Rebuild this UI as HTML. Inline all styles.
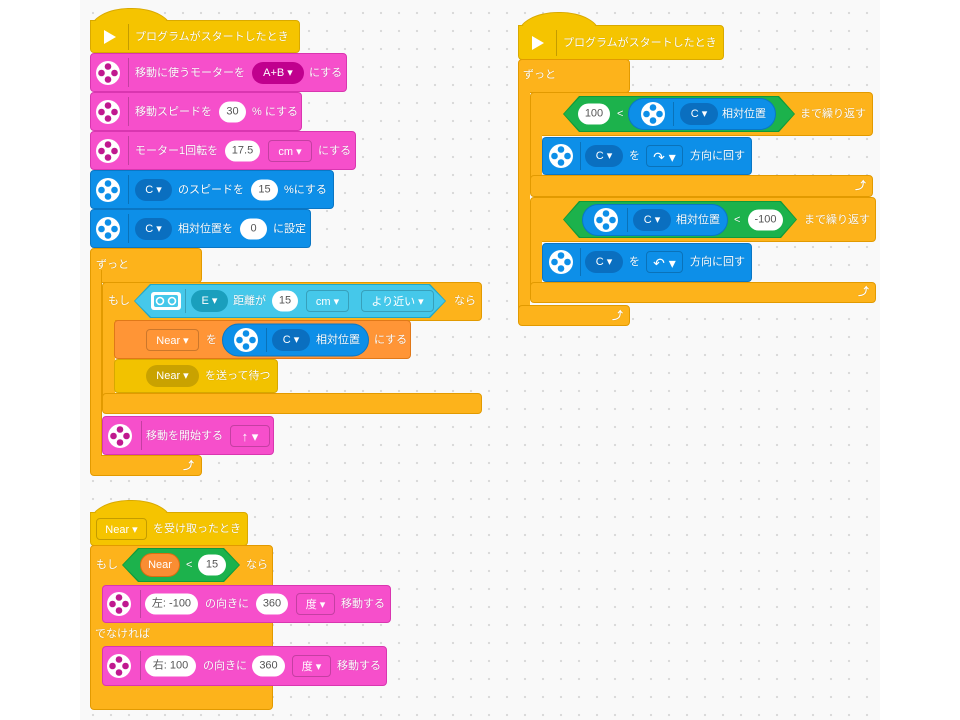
<!DOCTYPE html>
<html><head><meta charset="utf-8"><style>
body{margin:0;width:960px;height:720px;background:#fff;position:relative;overflow:hidden;font-family:"Liberation Sans","Noto Sans CJK JP",sans-serif}
#cv{position:absolute;left:80px;top:0;width:800px;height:720px;background-color:#f9f9f9;background-image:radial-gradient(circle,#d8d8d8 1px,transparent 1.3px);background-size:18px 18px;background-position:4px 4px}
.b{position:absolute;box-sizing:border-box;border-radius:4px}
.y{background:#f5c400;border:1px solid #d9a900}
.o{background:#fdb31b;border:1px solid #e29a00}
.p{background:#f64fcb;border:1px solid #d936b0}
.u{background:#0d8fe8;border:1px solid #0a76c4}
.v{background:#ff9536;border:1px solid #e07818}
.w{background:#f2c200;border:1px solid #d6a800}
.t{position:absolute;color:#fff;font-size:11px;white-space:nowrap;line-height:14px;transform:translateY(-50%);text-shadow:0 0 1px rgba(0,0,0,.25)}
.pl{position:absolute;background:#fff;color:#555;border-radius:11px;height:21px;text-align:center;font-size:11px;line-height:21px;transform:translateY(-50%);white-space:nowrap}
.dd{position:absolute;color:#fff;border-radius:11px;height:22px;text-align:center;font-size:11px;line-height:22px;transform:translateY(-50%);white-space:nowrap;box-sizing:border-box}
.ol{border-radius:4px;border:1px solid rgba(0,0,0,.2)}
.sep{position:absolute;width:1px;background:rgba(0,0,0,.2)}
.hex{position:absolute;clip-path:polygon(0 50%,16px 0,calc(100% - 16px) 0,100% 50%,calc(100% - 16px) 100%,16px 100%)}
.ic{position:absolute;transform:translate(-50%,-50%)}
.hump{position:absolute;box-sizing:border-box;border-radius:40px 40px 0 0/22px 22px 0 0}
</style></head><body>
<div id="cv"></div>

<!-- ===== Stack 1 ===== -->
<div class="hump y" style="left:90px;top:8px;width:82px;height:30px;border-bottom:none"></div>
<div class="b y" style="left:90px;top:20px;width:210px;height:33px;border-top-left-radius:0"></div>
<div class="hump" style="left:91px;top:9px;width:80px;height:30px;background:#f5c400"></div>
<svg class="ic" style="left:110px;top:37px" width="14" height="16"><polygon points="1,1 13,8 1,15" fill="#fff"/></svg>
<div class="sep" style="left:128px;top:24px;height:26px"></div>
<div class="t" style="left:135px;top:37px">プログラムがスタートしたとき</div>

<div class="b p" style="left:90px;top:53px;width:257px;height:39px"></div>
<svg class="ic" style="left:108px;top:73px" width="26" height="26"><circle cx="13" cy="13" r="12" fill="#fff"/><g fill="#c0188f"><circle cx="13" cy="6.5" r="3.3"/><circle cx="13" cy="19.5" r="3.3"/><circle cx="6.5" cy="13" r="3.3"/><circle cx="19.5" cy="13" r="3.3"/></g></svg>
<div class="sep" style="left:128px;top:58px;height:29px"></div>
<div class="t" style="left:135px;top:73px">移動に使うモーターを</div>
<div class="dd" style="left:252px;top:73px;width:52px;background:#c0008e">A+B ▾</div>
<div class="t" style="left:309px;top:73px">にする</div>

<div class="b p" style="left:90px;top:92px;width:212px;height:39px"></div>
<svg class="ic" style="left:108px;top:112px" width="26" height="26"><circle cx="13" cy="13" r="12" fill="#fff"/><g fill="#c0188f"><circle cx="13" cy="6.5" r="3.3"/><circle cx="13" cy="19.5" r="3.3"/><circle cx="6.5" cy="13" r="3.3"/><circle cx="19.5" cy="13" r="3.3"/></g></svg>
<div class="sep" style="left:128px;top:97px;height:29px"></div>
<div class="t" style="left:135px;top:112px">移動スピードを</div>
<div class="pl" style="left:219px;top:112px;width:27px">30</div>
<div class="t" style="left:252px;top:112px">% にする</div>

<div class="b p" style="left:90px;top:131px;width:266px;height:39px"></div>
<svg class="ic" style="left:108px;top:151px" width="26" height="26"><circle cx="13" cy="13" r="12" fill="#fff"/><g fill="#c0188f"><circle cx="13" cy="6.5" r="3.3"/><circle cx="13" cy="19.5" r="3.3"/><circle cx="6.5" cy="13" r="3.3"/><circle cx="19.5" cy="13" r="3.3"/></g></svg>
<div class="sep" style="left:128px;top:136px;height:29px"></div>
<div class="t" style="left:135px;top:151px">モーター1回転を</div>
<div class="pl" style="left:225px;top:151px;width:35px">17.5</div>
<div class="dd ol" style="left:268px;top:151px;width:44px">cm ▾</div>
<div class="t" style="left:318px;top:151px">にする</div>

<div class="b u" style="left:90px;top:170px;width:244px;height:39px"></div>
<svg class="ic" style="left:108px;top:190px" width="26" height="26"><circle cx="13" cy="13" r="12" fill="#fff"/><g fill="#0d8fe8"><circle cx="13" cy="6.5" r="3.3"/><circle cx="13" cy="19.5" r="3.3"/><circle cx="6.5" cy="13" r="3.3"/><circle cx="19.5" cy="13" r="3.3"/></g></svg>
<div class="sep" style="left:128px;top:175px;height:29px"></div>
<div class="dd" style="left:135px;top:190px;width:37px;background:#0a6fc0">C ▾</div>
<div class="t" style="left:178px;top:190px">のスピードを</div>
<div class="pl" style="left:251px;top:190px;width:27px">15</div>
<div class="t" style="left:284px;top:190px">%にする</div>

<div class="b u" style="left:90px;top:209px;width:221px;height:39px"></div>
<svg class="ic" style="left:108px;top:229px" width="26" height="26"><circle cx="13" cy="13" r="12" fill="#fff"/><g fill="#0d8fe8"><circle cx="13" cy="6.5" r="3.3"/><circle cx="13" cy="19.5" r="3.3"/><circle cx="6.5" cy="13" r="3.3"/><circle cx="19.5" cy="13" r="3.3"/></g></svg>
<div class="sep" style="left:128px;top:214px;height:29px"></div>
<div class="dd" style="left:135px;top:229px;width:37px;background:#0a6fc0">C ▾</div>
<div class="t" style="left:178px;top:229px">相対位置を</div>
<div class="pl" style="left:240px;top:229px;width:27px">0</div>
<div class="t" style="left:273px;top:229px">に設定</div>

<!-- forever -->
<div class="b o" style="left:90px;top:248px;width:112px;height:35px"></div>
<div class="b o" style="left:90px;top:270px;width:12px;height:200px;border-radius:0;border-top:none;border-bottom:none"></div>
<div class="b o" style="left:90px;top:455px;width:112px;height:21px"></div>
<div style="position:absolute;left:91px;top:260px;width:10px;height:205px;background:#fdb31b"></div>
<div class="t" style="left:96px;top:265px">ずっと</div>
<div class="t" style="left:183px;top:466px;font-weight:bold">⤴</div>

<!-- if -->
<div class="b o" style="left:102px;top:282px;width:380px;height:39px"></div>
<div style="position:absolute;left:102px;top:315px;width:12px;height:85px;background:#fdb31b;border-left:1px solid #e29a00"></div>
<div class="b o" style="left:102px;top:393px;width:380px;height:21px"></div>
<div class="t" style="left:108px;top:301px">もし</div>
<div class="hex" style="left:134px;top:284px;width:312px;height:34px;background:#1ea6c7"></div>
<div class="hex" style="left:135px;top:285px;width:310px;height:32px;background:#45c8ea"></div>
<svg class="ic" style="left:166px;top:301px" width="32" height="20"><rect x="1" y="1" width="30" height="18" rx="3" fill="#fff"/><rect x="4" y="4" width="24" height="12" rx="2" fill="#45c8ea"/><circle cx="10" cy="10" r="3.5" fill="none" stroke="#fff" stroke-width="1.6"/><circle cx="22" cy="10" r="3.5" fill="none" stroke="#fff" stroke-width="1.6"/></svg>
<div class="sep" style="left:185px;top:289px;height:24px"></div>
<div class="dd" style="left:191px;top:301px;width:37px;background:#1a9fbd">E ▾</div>
<div class="t" style="left:233px;top:301px">距離が</div>
<div class="pl" style="left:272px;top:301px;width:26px">15</div>
<div class="dd ol" style="left:306px;top:301px;width:43px">cm ▾</div>
<div class="dd ol" style="left:361px;top:301px;width:73px">より近い ▾</div>
<div class="t" style="left:454px;top:301px">なら</div>

<div class="b v" style="left:114px;top:320px;width:297px;height:39px"></div>
<div class="dd ol" style="left:146px;top:340px;width:53px">Near ▾</div>
<div class="t" style="left:206px;top:340px">を</div>
<div class="dd" style="left:222px;top:340px;width:147px;height:33px;border-radius:17px;background:#0d8fe8;border:1px solid #0a76c4"></div>
<svg class="ic" style="left:246px;top:340px" width="26" height="26"><circle cx="13" cy="13" r="12" fill="#fff"/><g fill="#0d8fe8"><circle cx="13" cy="6.5" r="3.3"/><circle cx="13" cy="19.5" r="3.3"/><circle cx="6.5" cy="13" r="3.3"/><circle cx="19.5" cy="13" r="3.3"/></g></svg>
<div class="sep" style="left:266px;top:328px;height:24px"></div>
<div class="dd" style="left:272px;top:340px;width:38px;background:#0a6fc0">C ▾</div>
<div class="t" style="left:316px;top:340px">相対位置</div>
<div class="t" style="left:374px;top:340px">にする</div>

<div class="b w" style="left:114px;top:359px;width:164px;height:34px"></div>
<div class="dd" style="left:146px;top:376px;width:53px;background:#c9a200">Near ▾</div>
<div class="t" style="left:205px;top:376px">を送って待つ</div>

<div class="b p" style="left:102px;top:416px;width:172px;height:39px"></div>
<svg class="ic" style="left:120px;top:436px" width="26" height="26"><circle cx="13" cy="13" r="12" fill="#fff"/><g fill="#c0188f"><circle cx="13" cy="6.5" r="3.3"/><circle cx="13" cy="19.5" r="3.3"/><circle cx="6.5" cy="13" r="3.3"/><circle cx="19.5" cy="13" r="3.3"/></g></svg>
<div class="sep" style="left:141px;top:421px;height:29px"></div>
<div class="t" style="left:146px;top:436px">移動を開始する</div>
<div class="dd ol" style="left:230px;top:436px;width:40px;font-size:13px">↑ ▾</div>

<!-- ===== Stack 2 ===== -->
<div class="hump y" style="left:518px;top:12px;width:82px;height:30px;border-bottom:none"></div>
<div class="b y" style="left:518px;top:25px;width:206px;height:35px;border-top-left-radius:0"></div>
<div class="hump" style="left:519px;top:13px;width:80px;height:30px;background:#f5c400"></div>
<svg class="ic" style="left:538px;top:43px" width="14" height="16"><polygon points="1,1 13,8 1,15" fill="#fff"/></svg>
<div class="sep" style="left:556px;top:30px;height:26px"></div>
<div class="t" style="left:563px;top:43px">プログラムがスタートしたとき</div>

<div class="b o" style="left:518px;top:59px;width:112px;height:34px"></div>
<div style="position:absolute;left:518px;top:80px;width:12px;height:230px;background:#fdb31b;border-left:1px solid #e29a00;box-sizing:border-box"></div>
<div class="b o" style="left:518px;top:305px;width:112px;height:21px"></div>
<div class="t" style="left:523px;top:75px">ずっと</div>
<div class="t" style="left:612px;top:316px;font-weight:bold">⤴</div>

<div class="b o" style="left:530px;top:92px;width:343px;height:44px"></div>
<div style="position:absolute;left:530px;top:130px;width:12px;height:50px;background:#fdb31b;border-left:1px solid #e29a00;box-sizing:border-box"></div>
<div class="b o" style="left:530px;top:175px;width:343px;height:22px"></div>
<div class="hex" style="left:563px;top:96px;width:232px;height:36px;background:#0f9a3a"></div>
<div class="hex" style="left:564px;top:97px;width:230px;height:34px;background:#1cb24c"></div>
<div class="pl" style="left:578px;top:114px;width:32px">100</div>
<div class="t" style="left:617px;top:114px;font-size:11px">&lt;</div>
<div class="dd" style="left:628px;top:114px;width:148px;height:32px;border-radius:16px;background:#0d8fe8;border:1px solid #0a76c4"></div>
<svg class="ic" style="left:653px;top:114px" width="26" height="26"><circle cx="13" cy="13" r="12" fill="#fff"/><g fill="#0d8fe8"><circle cx="13" cy="6.5" r="3.3"/><circle cx="13" cy="19.5" r="3.3"/><circle cx="6.5" cy="13" r="3.3"/><circle cx="19.5" cy="13" r="3.3"/></g></svg>
<div class="sep" style="left:673px;top:102px;height:24px"></div>
<div class="dd" style="left:680px;top:114px;width:38px;background:#0a6fc0">C ▾</div>
<div class="t" style="left:722px;top:114px">相対位置</div>
<div class="t" style="left:800px;top:114px">まで繰り返す</div>

<div class="b u" style="left:542px;top:137px;width:210px;height:38px"></div>
<svg class="ic" style="left:561px;top:156px" width="26" height="26"><circle cx="13" cy="13" r="12" fill="#fff"/><g fill="#0d8fe8"><circle cx="13" cy="6.5" r="3.3"/><circle cx="13" cy="19.5" r="3.3"/><circle cx="6.5" cy="13" r="3.3"/><circle cx="19.5" cy="13" r="3.3"/></g></svg>
<div class="sep" style="left:580px;top:142px;height:28px"></div>
<div class="dd" style="left:585px;top:156px;width:38px;background:#0a6fc0">C ▾</div>
<div class="t" style="left:629px;top:156px">を</div>
<div class="dd ol" style="left:646px;top:156px;width:37px;font-size:14px">↷ ▾</div>
<div class="t" style="left:690px;top:156px">方向に回す</div>
<div class="t" style="left:855px;top:186px;font-weight:bold">⤴</div>

<div class="b o" style="left:530px;top:197px;width:346px;height:45px"></div>
<div style="position:absolute;left:530px;top:235px;width:12px;height:52px;background:#fdb31b;border-left:1px solid #e29a00;box-sizing:border-box"></div>
<div class="b o" style="left:530px;top:282px;width:346px;height:21px"></div>
<div class="hex" style="left:563px;top:201px;width:234px;height:37px;background:#0f9a3a"></div>
<div class="hex" style="left:564px;top:202px;width:232px;height:35px;background:#1cb24c"></div>
<div class="dd" style="left:582px;top:220px;width:146px;height:32px;border-radius:16px;background:#0d8fe8;border:1px solid #0a76c4"></div>
<svg class="ic" style="left:606px;top:220px" width="26" height="26"><circle cx="13" cy="13" r="12" fill="#fff"/><g fill="#0d8fe8"><circle cx="13" cy="6.5" r="3.3"/><circle cx="13" cy="19.5" r="3.3"/><circle cx="6.5" cy="13" r="3.3"/><circle cx="19.5" cy="13" r="3.3"/></g></svg>
<div class="sep" style="left:627px;top:208px;height:24px"></div>
<div class="dd" style="left:633px;top:220px;width:38px;background:#0a6fc0">C ▾</div>
<div class="t" style="left:676px;top:220px">相対位置</div>
<div class="t" style="left:734px;top:220px;font-size:11px">&lt;</div>
<div class="pl" style="left:748px;top:220px;width:35px">-100</div>
<div class="t" style="left:804px;top:220px">まで繰り返す</div>

<div class="b u" style="left:542px;top:243px;width:210px;height:39px"></div>
<svg class="ic" style="left:561px;top:262px" width="26" height="26"><circle cx="13" cy="13" r="12" fill="#fff"/><g fill="#0d8fe8"><circle cx="13" cy="6.5" r="3.3"/><circle cx="13" cy="19.5" r="3.3"/><circle cx="6.5" cy="13" r="3.3"/><circle cx="19.5" cy="13" r="3.3"/></g></svg>
<div class="sep" style="left:580px;top:248px;height:28px"></div>
<div class="dd" style="left:585px;top:262px;width:38px;background:#0a6fc0">C ▾</div>
<div class="t" style="left:629px;top:262px">を</div>
<div class="dd ol" style="left:646px;top:262px;width:37px;font-size:14px">↶ ▾</div>
<div class="t" style="left:690px;top:262px">方向に回す</div>
<div class="t" style="left:858px;top:292px;font-weight:bold">⤴</div>

<!-- ===== Stack 3 ===== -->
<div class="hump y" style="left:90px;top:500px;width:82px;height:30px;border-bottom:none"></div>
<div class="b y" style="left:90px;top:512px;width:158px;height:34px;border-top-left-radius:0"></div>
<div class="hump" style="left:91px;top:501px;width:80px;height:30px;background:#f5c400"></div>
<div class="dd ol" style="left:96px;top:529px;width:51px">Near ▾</div>
<div class="t" style="left:153px;top:529px">を受け取ったとき</div>

<div class="b o" style="left:90px;top:545px;width:183px;height:165px"></div>
<div style="position:absolute;left:91px;top:560px;width:10px;height:140px;background:#fdb31b"></div>
<div class="t" style="left:96px;top:565px">もし</div>
<div class="hex" style="left:122px;top:548px;width:118px;height:34px;background:#0f9a3a"></div>
<div class="hex" style="left:123px;top:549px;width:116px;height:32px;background:#1cb24c"></div>
<div class="dd" style="left:140px;top:565px;width:40px;height:24px;border-radius:12px;background:#f98d33;border:1px solid #d96d10">Near</div>
<div class="t" style="left:186px;top:565px;font-size:11px">&lt;</div>
<div class="pl" style="left:198px;top:565px;width:28px">15</div>
<div class="t" style="left:246px;top:565px">なら</div>

<div class="b p" style="left:102px;top:585px;width:289px;height:38px"></div>
<svg class="ic" style="left:119px;top:604px" width="26" height="26"><circle cx="13" cy="13" r="12" fill="#fff"/><g fill="#c0188f"><circle cx="13" cy="6.5" r="3.3"/><circle cx="13" cy="19.5" r="3.3"/><circle cx="6.5" cy="13" r="3.3"/><circle cx="19.5" cy="13" r="3.3"/></g></svg>
<div class="sep" style="left:140px;top:590px;height:28px"></div>
<div class="pl" style="left:145px;top:604px;width:53px">左: -100</div>
<div class="t" style="left:205px;top:604px">の向きに</div>
<div class="pl" style="left:256px;top:604px;width:32px">360</div>
<div class="dd ol" style="left:296px;top:604px;width:39px">度 ▾</div>
<div class="t" style="left:341px;top:604px">移動する</div>

<div class="t" style="left:95px;top:634px">でなければ</div>

<div class="b p" style="left:102px;top:646px;width:285px;height:40px"></div>
<svg class="ic" style="left:119px;top:666px" width="26" height="26"><circle cx="13" cy="13" r="12" fill="#fff"/><g fill="#c0188f"><circle cx="13" cy="6.5" r="3.3"/><circle cx="13" cy="19.5" r="3.3"/><circle cx="6.5" cy="13" r="3.3"/><circle cx="19.5" cy="13" r="3.3"/></g></svg>
<div class="sep" style="left:140px;top:651px;height:29px"></div>
<div class="pl" style="left:145px;top:666px;width:51px">右: 100</div>
<div class="t" style="left:203px;top:666px">の向きに</div>
<div class="pl" style="left:252px;top:666px;width:33px">360</div>
<div class="dd ol" style="left:292px;top:666px;width:39px">度 ▾</div>
<div class="t" style="left:337px;top:666px">移動する</div>
</body></html>
